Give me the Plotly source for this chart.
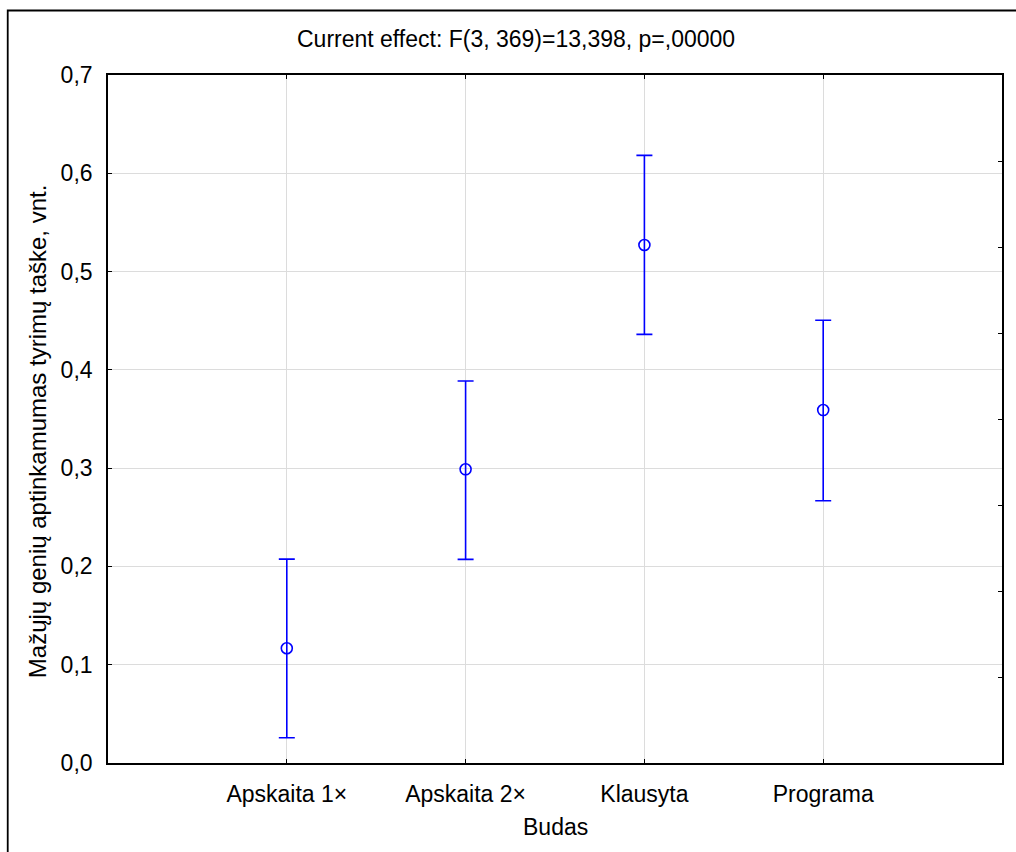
import plotly.graph_objects as go

# Group means with the upper/lower ends of their intervals
categories = ["Apskaita 1×", "Apskaita 2×", "Klausyta", "Programa"]
means = [0.1167, 0.2988, 0.5270, 0.3591]
upper = [0.2074, 0.3887, 0.6182, 0.4504]
lower = [0.0257, 0.2072, 0.4361, 0.2669]

y_ticks = [0.0, 0.1, 0.2, 0.3, 0.4, 0.5, 0.6, 0.7]
y_tick_text = ["0,0", "0,1", "0,2", "0,3", "0,4", "0,5", "0,6", "0,7"]

title_text = "Current effect: F(3, 369)=13,398, p=,00000"
x_title = "Budas"
y_title = "Mažųjų genių aptinkamumas tyrimų taške, vnt."

FONT = "Liberation Sans, Arial, sans-serif"
FS = 23
BLUE = "#0000ff"
GRID = "#dcdcdc"

W, H = 1016, 852
L, R, T, B = 108, 12, 75, 89
pw, ph = W - L - R, H - T - B


def px_to_paper(x, y):
    return (x - L) / pw, (H - B - y) / ph


x_idx = list(range(len(categories)))
err_plus = [u - m for u, m in zip(upper, means)]
err_minus = [m - lo for m, lo in zip(means, lower)]

fig = go.Figure()
fig.add_trace(go.Scatter(
    x=x_idx, y=means, mode="markers",
    marker=dict(symbol="circle-open", size=11, color=BLUE, line=dict(width=1.6, color=BLUE)),
    error_y=dict(type="data", symmetric=False, array=err_plus, arrayminus=err_minus,
                 color=BLUE, thickness=1.6, width=8),
    showlegend=False, hoverinfo="skip",
))
# helper trace so the right-hand tick axis is drawn
fig.add_trace(go.Scatter(x=[0], y=[0], yaxis="y2", mode="markers",
                         marker=dict(opacity=0), showlegend=False, hoverinfo="skip"))

fig.update_layout(
    width=W, height=H,
    margin=dict(l=L, r=R, t=T, b=B, pad=0),
    paper_bgcolor="white", plot_bgcolor="white",
    font=dict(family=FONT, size=FS, color="black"),
    xaxis=dict(
        range=[-1, 4], tickmode="array", tickvals=x_idx, ticktext=categories,
        showgrid=True, gridcolor=GRID, gridwidth=1, zeroline=False,
        showline=True, linecolor="black", linewidth=1.6, mirror="ticks",
        ticks="inside", ticklen=4, tickwidth=1.4, tickcolor="black",
        ticklabelstandoff=10,
    ),
    yaxis=dict(
        range=[0, 0.7], tickmode="array", tickvals=y_ticks, ticktext=y_tick_text,
        showgrid=True, gridcolor=GRID, gridwidth=1, zeroline=False,
        showline=True, linecolor="black", linewidth=1.6, mirror=True,
        ticks="inside", ticklen=4, tickwidth=1.4, tickcolor="black",
        ticklabelstandoff=9,
    ),
    yaxis2=dict(
        overlaying="y", side="right", range=[0, 8], tickmode="linear", tick0=0, dtick=1,
        showticklabels=False, showgrid=False, zeroline=False, showline=False,
        ticks="inside", ticklen=4, tickwidth=1.4, tickcolor="black",
    ),
)

# outer frame (left and top edges)
fx0, fy0 = px_to_paper(7.5, 900)
fx1, fy1 = px_to_paper(7.5, 10.5)
fx2, _ = px_to_paper(1030, 10.5)
fig.add_shape(type="path", xref="paper", yref="paper",
              path=f"M {fx0} {fy0} L {fx1} {fy1} L {fx2} {fy1}",
              line=dict(color="black", width=1.8))

tx, ty = px_to_paper(517, 39)
fig.add_annotation(text=title_text, xref="paper", yref="paper", x=tx, y=ty,
                   xanchor="center", yanchor="middle", showarrow=False,
                   font=dict(family=FONT, size=FS, color="black"))

bx, by = px_to_paper(557, 827)
fig.add_annotation(text=x_title, xref="paper", yref="paper", x=bx, y=by,
                   xanchor="center", yanchor="middle", showarrow=False,
                   font=dict(family=FONT, size=FS, color="black"))

lx, ly = px_to_paper(37, 431)
fig.add_annotation(text=y_title, xref="paper", yref="paper", x=lx, y=ly,
                   xanchor="center", yanchor="middle", showarrow=False, textangle=-90,
                   font=dict(family=FONT, size=24, color="black"))

fig.write_html("out.html")
